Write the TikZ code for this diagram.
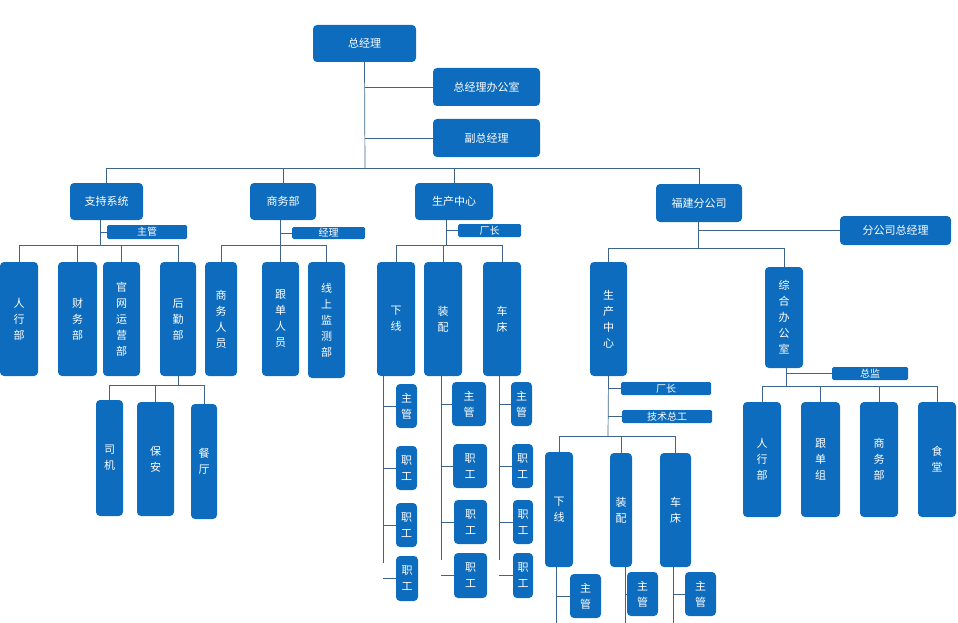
\documentclass[tikz,border=0pt]{standalone}
\usepackage{fontspec}
\newfontfamily\cjk{Noto Sans CJK SC}
\definecolor{orgblue}{RGB}{14,108,190}
\definecolor{linegray}{RGB}{60,100,140}
\tikzset{
  org/.style = {rounded corners=4pt, fill=orgblue, text=white, align=center,
    inner sep=0pt, font=\cjk\fontsize{11}{16}\selectfont},% main boxes
  tag/.style = {rounded corners=1.5pt, fill=orgblue, text=white,
    inner sep=0pt, font=\cjk\fontsize{10}{11}\selectfont},% small title bars
  link/.style = {draw=linegray, line width=0.7pt},
}
% box from its corners (pixel units, y down)
\newcommand{\ob}[7][org]{\node[#1, minimum width={(#5-#3)*1pt}, minimum height={(#6-#4)*1pt}]
  (#2) at ({(#3+#5)/2},{(#4+#6)/2}) {#7};}
\begin{document}
\begin{tikzpicture}[x=1pt,y=-1pt]
  \useasboundingbox (0,0) rectangle (958,623);
  % top
  \ob{gm}{313}{25}{416}{62}{总经理}
  \ob{gmo}{433}{68}{540}{106}{总经理办公室}
  \ob{vgm}{433}{119}{540}{157}{副总经理}
  \ob{sup}{70}{183}{143}{220}{支持系统}
  \ob{biz}{250}{183}{316}{220}{商务部}
  \ob{prod}{415}{183}{493}{220}{生产中心}
  \ob{fj}{656}{184}{742}{222}{福建分公司}
  \coordinate (topBus) at (365,168);
  \draw[link] (gm.south) -- (topBus);
  \draw[link] (gm.south |- gmo.west) -- (gmo.west);
  \draw[link] (gm.south |- vgm.west) -- (vgm.west);
  \draw[link] (sup.north |- topBus) -- (fj.north |- topBus);
  \foreach \n in {sup,biz,prod,fj}
    \draw[link] (\n.north) -- (\n.north |- topBus);

  % support system
  \ob[tag]{supT}{107}{225}{187}{239}{主管}
  \ob{s1}{0}{262}{38}{376}{人\\行\\部}
  \ob{s2}{58}{262}{97}{376}{财\\务\\部}
  \ob{s3}{103}{262}{140}{376}{官\\网\\运\\营\\部}
  \ob{s4}{160}{262}{196}{376}{后\\勤\\部}
  \coordinate (supBus) at (100,245);
  \draw[link] (sup.south -| supBus) -- (supBus);
  \draw[link] (supBus |- supT.west) -- (supT.west);
  \draw[link] (s1.north |- supBus) -- (s4.north |- supBus);
  \foreach \n in {s1,s2,s3,s4}
    \draw[link] (\n.north) -- (\n.north |- supBus);
  \ob{l1}{96}{400}{123}{516}{司\\机}
  \ob{l2}{137}{402}{174}{516}{保\\安}
  \ob{l3}{191}{404}{217}{519}{餐\\厅}
  \coordinate (logBus) at (178,385);
  \draw[link] (s4.south) -- (logBus);
  \draw[link] (l1.north |- logBus) -- (l3.north |- logBus);
  \foreach \n in {l1,l2,l3}
    \draw[link] (\n.north) -- (\n.north |- logBus);

  % business
  \ob[tag]{bizT}{292}{227}{365}{239}{经理}
  \ob{b1}{205}{262}{237}{376}{商\\务\\人\\员}
  \ob{b2}{262}{262}{299}{376}{跟\\单\\人\\员}
  \ob{b3}{308}{262}{345}{378}{线\\上\\监\\测\\部}
  \coordinate (bizBus) at (280,245);
  \draw[link] (biz.south -| bizBus) -- (bizBus);
  \draw[link] (bizBus |- bizT.west) -- (bizT.west);
  \draw[link] (b1.north |- bizBus) -- (b3.north |- bizBus);
  \foreach \n in {b1,b2,b3}
    \draw[link] (\n.north) -- (\n.north |- bizBus);

  % production
  \ob[tag]{prodT}{458}{224}{521}{237}{厂长}
  \ob{p1}{377}{262}{415}{376}{下\\线}
  \ob{p2}{424}{262}{462}{376}{装\\配}
  \ob{p3}{483}{262}{521}{376}{车\\床}
  \coordinate (prodBus) at (446,245);
  \draw[link] (prod.south -| prodBus) -- (prodBus);
  \draw[link] (prodBus |- prodT.west) -- (prodT.west);
  \draw[link] (p1.north |- prodBus) -- (p3.north |- prodBus);
  \foreach \n in {p1,p2,p3}
    \draw[link] (\n.north) -- (\n.north |- prodBus);
  \ob{pa1}{396}{384}{417}{428}{主\\管}
  \ob{pa2}{396}{446}{417}{490}{职\\工}
  \ob{pa3}{396}{503}{417}{547}{职\\工}
  \ob{pa4}{396}{556}{418}{601}{职\\工}
  \ob{pb1}{452}{382}{486}{426}{主\\管}
  \ob{pb2}{453}{444}{487}{488}{职\\工}
  \ob{pb3}{454}{500}{487}{544}{职\\工}
  \ob{pb4}{454}{553}{487}{598}{职\\工}
  \ob{pc1}{511}{382}{532}{426}{主\\管}
  \ob{pc2}{512}{444}{533}{488}{职\\工}
  \ob{pc3}{513}{500}{533}{544}{职\\工}
  \ob{pc4}{513}{553}{533}{598}{职\\工}
  \coordinate (paL) at (383,563);
  \coordinate (pbL) at (441,560);
  \coordinate (pcL) at (499,560);
  \foreach \p/\s in {p1/pa,p2/pb,p3/pc}{
    \draw[link] (\p.south -| \s L) -- (\s L);
    \foreach \i in {1,...,4}
      \draw[link] (\s L |- \s\i.west) -- (\s\i.west);
  }

  % Fujian branch
  \ob{fjT}{840}{216}{951}{245}{分公司总经理}
  \ob{f1}{590}{262}{627}{376}{生\\产\\中\\心}
  \ob{f2}{765}{267}{803}{368}{综\\合\\办\\公\\室}
  \coordinate (fjBus) at (698,248);
  \draw[link] (fj.south -| fjBus) -- (fjBus);
  \draw[link] (fjBus |- fjT.west) -- (fjT.west);
  \draw[link] (f1.north |- fjBus) -- (f2.north |- fjBus);
  \foreach \n in {f1,f2}
    \draw[link] (\n.north) -- (\n.north |- fjBus);
  % branch production
  \ob[tag]{fT1}{621}{382}{711}{395}{厂长}
  \ob[tag]{fT2}{622}{410}{712}{423}{技术总工}
  \ob{fp1}{545}{452}{573}{567}{下\\线}
  \ob{fp2}{610}{453}{632}{567}{装\\配}
  \ob{fp3}{660}{453}{691}{567}{车\\床}
  \coordinate (f1Bus) at (608,436);
  \draw[link] (f1.south) -- (f1Bus);
  \draw[link] (f1Bus |- fT1.west) -- (fT1.west);
  \draw[link] (f1Bus |- fT2.west) -- (fT2.west);
  \draw[link] (fp1.north |- f1Bus) -- (fp3.north |- f1Bus);
  \foreach \n in {fp1,fp2,fp3}
    \draw[link] (\n.north) -- (\n.north |- f1Bus);
  \ob{fq1}{570}{574}{601}{618}{主\\管}
  \ob{fq2}{627}{572}{658}{616}{主\\管}
  \ob{fq3}{685}{572}{716}{616}{主\\管}
  \coordinate (fq1L) at (556,623);
  \coordinate (fq2L) at (625,623);
  \coordinate (fq3L) at (673,623);
  \foreach \i in {1,2,3}{
    \draw[link] (fp\i.south -| fq\i L) -- (fq\i L);
    \draw[link] (fq\i L |- fq\i.west) -- (fq\i.west);
  }
  % general office
  \ob[tag]{f2T}{832}{367}{908}{380}{总监}
  \ob{g1}{743}{402}{781}{517}{人\\行\\部}
  \ob{g2}{801}{402}{840}{517}{跟\\单\\组}
  \ob{g3}{860}{402}{898}{517}{商\\务\\部}
  \ob{g4}{918}{402}{956}{517}{食\\堂}
  \coordinate (f2Bus) at (786,386);
  \draw[link] (f2.south -| f2Bus) -- (f2Bus);
  \draw[link] (f2Bus |- f2T.west) -- (f2T.west);
  \draw[link] (g1.north |- f2Bus) -- (g4.north |- f2Bus);
  \foreach \n in {g1,g2,g3,g4}
    \draw[link] (\n.north) -- (\n.north |- f2Bus);
\end{tikzpicture}
\end{document}
